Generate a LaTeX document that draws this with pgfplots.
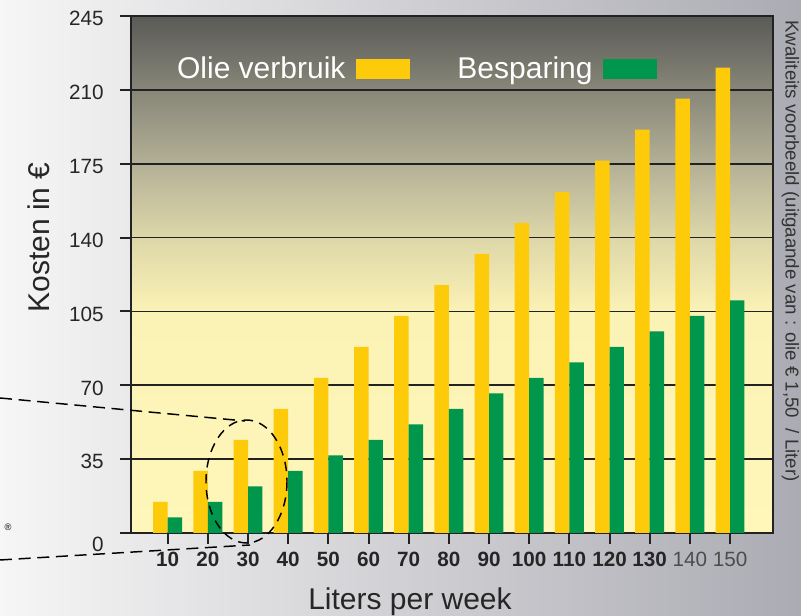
\documentclass[border=0pt]{standalone}
\usepackage{pgfplots}
\pgfplotsset{compat=1.18}
\usepackage{fontspec}
\setmainfont{Liberation Sans}

\definecolor{oilyellow}{HTML}{FDCB0A}
\definecolor{savegreen}{HTML}{00964C}
\definecolor{gridgray}{HTML}{222222}
\definecolor{bgtop}{HTML}{5A5A57}
\definecolor{bgA}{HTML}{878678}
\definecolor{bgB}{HTML}{B4B096}
\definecolor{bgC}{HTML}{DDD7A9}
\definecolor{bgD}{HTML}{FBF2B5}
\definecolor{bglow}{HTML}{FFF6B9}
\definecolor{outL}{HTML}{F6F6F6}
\definecolor{outM}{HTML}{C8C8CD}
\definecolor{outR}{HTML}{ABABB3}

% plot area: dark at the top, light yellow from 105 down
\pgfdeclareverticalshading{plotbg}{100bp}{color(0bp)=(bglow); color(25bp)=(bglow);
  color(46.4bp)=(bgD); color(53.6bp)=(bgC); color(60.7bp)=(bgB);
  color(67.9bp)=(bgA); color(75bp)=(bgtop); color(100bp)=(bgtop)}

\pgfplotstableread{
x  oil    saving
1  14.7   7.35
2  29.4   14.7
3  44.1   22.05
4  58.8   29.4
5  73.5   36.75
6  88.2   44.1
7  102.9  51.45
8  117.6  58.8
9  132.3  66.15
10 147.0  73.5
11 161.7  80.85
12 176.4  88.2
13 191.1  95.55
14 205.8  102.9
15 220.5  110.25
}\costs

\begin{document}
\begin{tikzpicture}
% page = 801 x 616 px, 1 px = 0.75pt, axis box corner at (0,0)
\path[use as bounding box] (-98.25pt,-62.25pt) rectangle (502.5pt,399.75pt);
\shade[left color=outL, middle color=outM, right color=outR]
  (-98.25pt,-62.25pt) rectangle (502.5pt,399.75pt);

\begin{axis}[
    at={(0,0)}, anchor=south west,
    scale only axis,
    width=481.5pt, height=387.75pt,
    xmin=0.087, xmax=16.07,
    ymin=0, ymax=245,
    ytick={35,70,...,245},
    extra y ticks={0},
    extra y tick style={yticklabel style={yshift=-6.5pt}},
    xtick={1,...,15},
    xticklabels={\textbf{10},\textbf{20},\textbf{30},\textbf{40},\textbf{50},
      \textbf{60},\textbf{70},\textbf{80},\textbf{90},\textbf{100},\textbf{110},
      \textbf{120},\textbf{130},\textcolor{black!70}{140},\textcolor{black!70}{150}},
    ybar=0pt, bar width=0.36,
    legend image code/.code={\fill[#1] (0pt,-7.5pt) rectangle (40.5pt,7.5pt);},
    axis background/.style={shade, shading=plotbg},
    axis line style={line width=1.8pt, gridgray},
    ymajorgrids,
    major grid style={line width=1.3pt, gridgray},
    tick align=outside,
    xtick pos=bottom, ytick pos=left,
    major tick length=8pt,
    tick style={line width=1.5pt, gridgray},
    /pgf/number format/assume math mode=true,
    tick label style={font=\fontsize{15.5}{18}\selectfont, text=black!85},
    yticklabel style={xshift=-9pt, yshift=-2pt},
    xticklabel style={yshift=-3pt},
    xlabel={Liters per week},
    ylabel={Kosten in €},
    label style={font=\fontsize{22.5}{26}\selectfont, text=black!85},
    x label style={at={(axis description cs:0.4346,0)}, anchor=base, yshift=-57.75pt},
    y label style={at={(axis description cs:-0.1277,0.5716)}, anchor=base},
    legend columns=2,
    legend plot pos=right,
    legend style={at={(axis description cs:0.061,0.898)}, anchor=west,
      draw=none, fill=none, text=white,
      font=\fontsize{22.5}{26}\selectfont,
      /tikz/every odd column/.style={column sep=6pt},
      /tikz/every even column/.style={column sep=33.5pt}},
  ]
  \addplot[fill=oilyellow, draw=none] table[x=x, y=oil] {\costs};
  \addplot[fill=savegreen, draw=none] table[x=x, y=saving] {\costs};
  \legend{Olie verbruik, Besparing}
\end{axis}

\begin{scope}[x=0.75pt, y=-0.75pt, shift={(-98.25pt,399.75pt)}]
  \draw[line width=1.1pt, dash pattern=on 9pt off 5pt] (0,398) -- (245,421);
  \draw[line width=1.1pt, dash pattern=on 9pt off 5pt] (0,560) -- (250,545);
  \draw[line width=1.1pt, dash pattern=on 7pt off 5pt]
    (246.5,481.5) ellipse [x radius=40.5, y radius=61.5];
  \node[font=\fontsize{7}{8}\selectfont, inner sep=0pt] at (8,527) {®};
  \node[rotate=-90, anchor=base west, inner sep=0pt,
        font=\fontsize{14}{16}\selectfont, text=black!80]
    at (785.5,20) {Kwaliteits voorbeeld (uitgaande van : olie € 1,50~ / Liter)};
\end{scope}
\end{tikzpicture}
\end{document}
